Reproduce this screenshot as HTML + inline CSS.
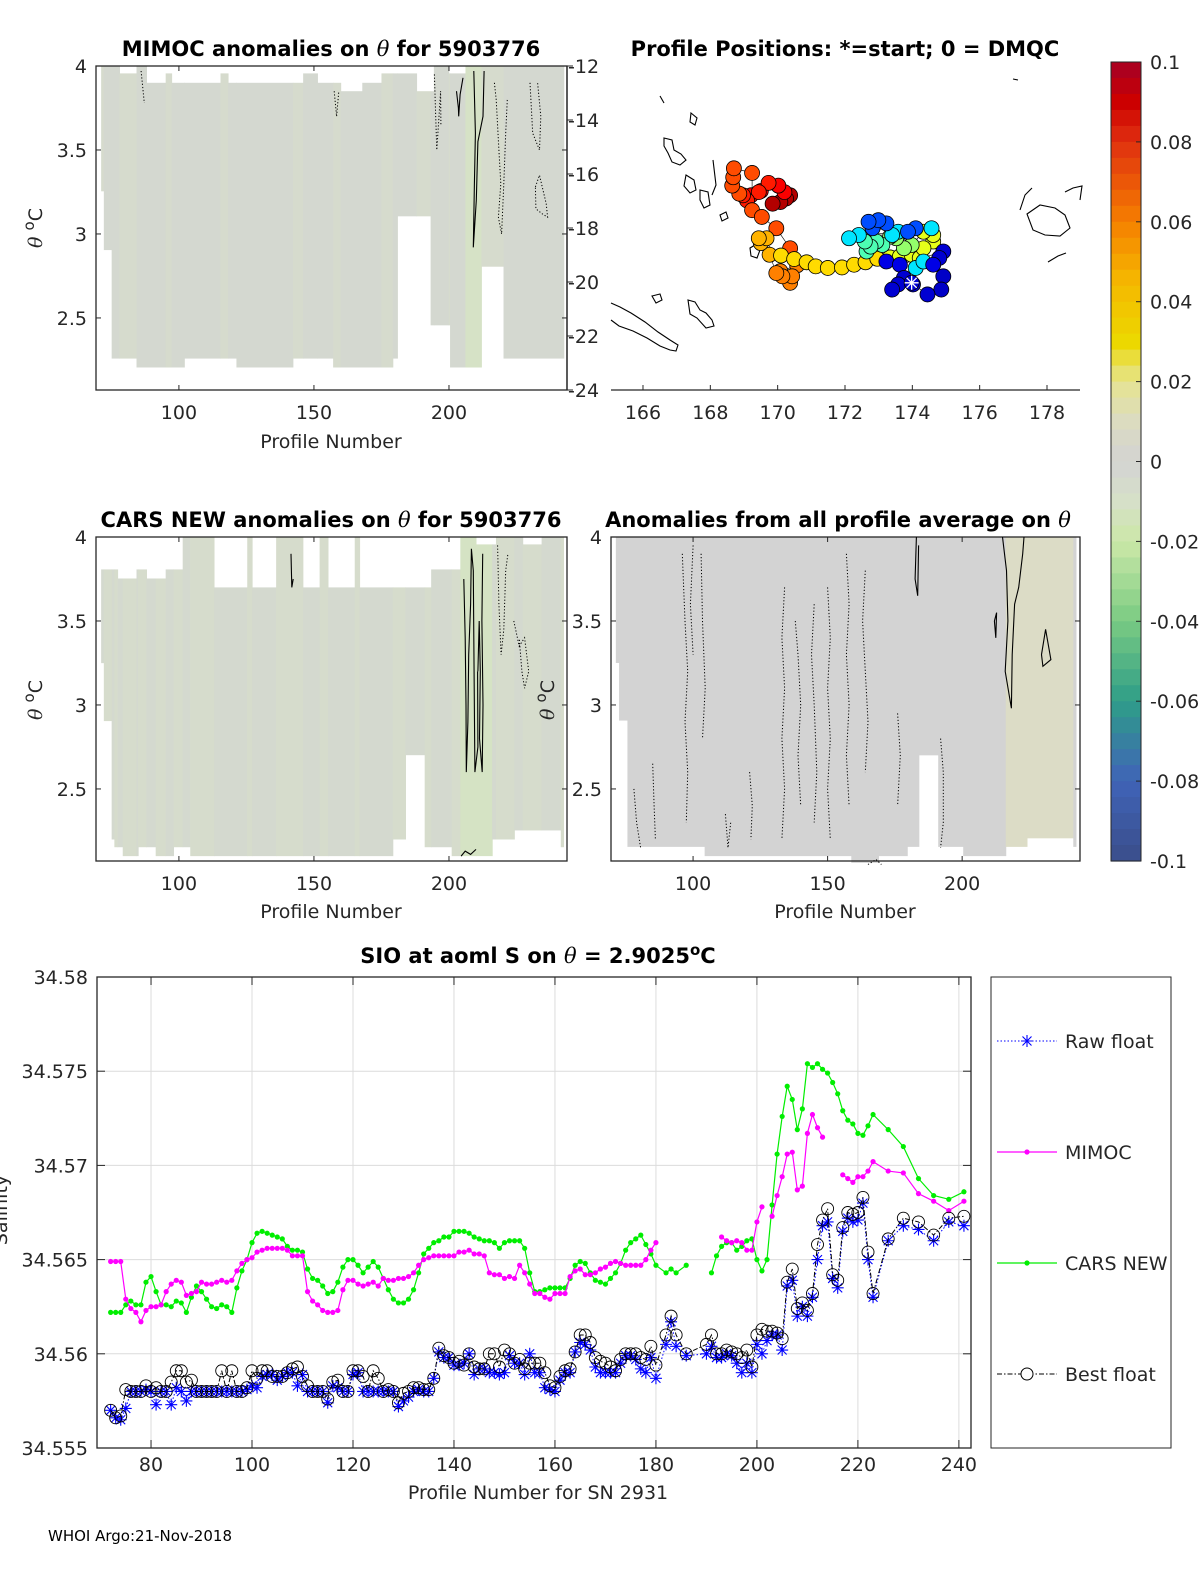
<!DOCTYPE html>
<html><head><meta charset="utf-8"><style>
html,body{margin:0;padding:0;background:#fff}
svg{display:block;font-family:"DejaVu Sans","Liberation Sans",sans-serif}
.tk{font-size:19px;fill:#262626}
.ttl{font-size:21px;font-weight:bold;fill:#000}
.th{font-family:"DejaVu Serif","Liberation Serif",serif;font-style:italic;font-weight:normal}
</style></head><body>
<svg id="fig" width="1200" height="1575" viewBox="0 0 1200 1575" xmlns="http://www.w3.org/2000/svg">
<g id="p1"></g>
<g id="p2"></g>
<g id="p3"></g>
<g id="p4"></g>
<g id="cb"></g>
<g id="p5"></g>

<text class="ttl" x="331" y="56" text-anchor="middle">MIMOC anomalies on <tspan class="th">θ</tspan>  for 5903776</text>
<text class="ttl" x="845" y="56" text-anchor="middle">Profile Positions: *=start; 0 = DMQC</text>
<text class="ttl" x="331" y="527" text-anchor="middle">CARS NEW anomalies on <tspan class="th">θ</tspan> for 5903776</text>
<text class="ttl" x="838" y="527" text-anchor="middle">Anomalies from all profile average on <tspan class="th">θ</tspan></text>
<text class="ttl" x="538" y="963" text-anchor="middle">SIO at aoml S on <tspan class="th">θ</tspan> = 2.9025<tspan dy="-8" font-size="15">o</tspan><tspan dy="8">C</tspan></text>

<text class="tk" x="331" y="448" text-anchor="middle" font-size="21">Profile Number</text>
<text class="tk" x="331" y="918" text-anchor="middle" font-size="21">Profile Number</text>
<text class="tk" x="845" y="918" text-anchor="middle" font-size="21">Profile Number</text>
<text class="tk" x="538" y="1499" text-anchor="middle" font-size="21">Profile Number for SN 2931</text>
<text class="tk" transform="translate(42,228) rotate(-90)" text-anchor="middle" font-size="21"><tspan class="th">θ</tspan> <tspan dy="-8" font-size="15">o</tspan><tspan dy="8">C</tspan></text>
<text class="tk" transform="translate(42,700) rotate(-90)" text-anchor="middle" font-size="21"><tspan class="th">θ</tspan> <tspan dy="-8" font-size="15">o</tspan><tspan dy="8">C</tspan></text>
<text class="tk" transform="translate(554,700) rotate(-90)" text-anchor="middle" font-size="21"><tspan class="th">θ</tspan> <tspan dy="-8" font-size="15">o</tspan><tspan dy="8">C</tspan></text>
<text class="tk" transform="translate(7,1210) rotate(-90)" text-anchor="middle" font-size="21">Salinity</text>
<text x="48" y="1541" font-size="15" fill="#000">WHOI Argo:21-Nov-2018</text>
</svg>
<script>
// ---------- bottom chart data ----------
const profiles=[72,73,74,75,76,77,78,79,80,81,82,83,84,85,86,87,88,89,90,91,92,93,94,95,96,97,98,99,100,101,102,103,104,105,106,107,108,109,110,111,112,113,114,115,116,117,118,119,120,121,122,123,124,125,126,127,128,129,130,131,132,133,134,135,136,137,138,139,140,141,142,143,144,145,146,147,148,149,150,151,152,153,154,155,156,157,158,159,160,161,162,163,164,165,166,167,168,169,170,171,172,173,174,175,176,177,178,179,180,182,183,184,186,190,191,192,193,194,195,196,197,198,199,200,201,202,203,204,205,206,207,208,209,210,211,212,213,214,215,216,217,218,219,220,221,222,223,226,229,232,235,238,241];
const carsNew=[34.5622,34.5622,34.5622,34.5626,34.5628,34.5626,34.5626,34.5638,34.5641,34.5633,34.5626,34.5626,34.5625,34.5628,34.5627,34.5622,34.5630,34.5636,34.5633,34.5629,34.5625,34.5624,34.5626,34.5625,34.5622,34.5635,34.5644,34.5650,34.5659,34.5664,34.5665,34.5664,34.5663,34.5662,34.5661,34.5657,34.5655,34.5655,34.5654,34.5645,34.5640,34.5639,34.5636,34.5632,34.5633,34.5638,34.5646,34.5650,34.5650,34.5647,34.5643,34.5646,34.5649,34.5646,34.5640,34.5634,34.5629,34.5627,34.5627,34.5629,34.5634,34.5643,34.5653,34.5656,34.5659,34.5660,34.5662,34.5662,34.5665,34.5665,34.5665,34.5664,34.5662,34.5661,34.5660,34.5660,34.5659,34.5656,34.5659,34.5660,34.5660,34.5660,34.5656,34.5643,34.5633,34.5633,34.5634,34.5635,34.5635,34.5635,34.5635,34.5640,34.5647,34.5649,34.5648,34.5643,34.5639,34.5638,34.5637,34.5640,34.5643,34.5648,34.5655,34.5659,34.5661,34.5663,34.5658,34.5653,34.5647,34.5643,34.5645,34.5643,34.5647,null,34.5643,34.5652,34.5657,34.5659,34.5659,34.5655,34.5657,34.5660,34.5661,34.5650,34.5644,34.5650,34.5679,34.5706,34.5726,34.5742,34.5735,34.5719,34.5730,34.5754,34.5752,34.5754,34.5751,34.5749,34.5744,34.5738,34.5729,34.5724,34.5722,34.5717,34.5716,34.5721,34.5727,34.5719,34.5710,34.5693,34.5684,34.5682,34.5686];
const mimoc=[34.5649,34.5649,34.5649,34.5629,34.5624,34.5622,34.5617,34.5623,34.5625,34.5625,34.5626,34.5633,34.5637,34.5639,34.5638,34.5631,34.5632,34.5633,34.5638,34.5637,34.5637,34.5638,34.5639,34.5638,34.5639,34.5644,34.5648,34.5650,34.5651,34.5654,34.5655,34.5656,34.5656,34.5656,34.5656,34.5655,34.5652,34.5652,34.5652,34.5633,34.5628,34.5626,34.5623,34.5622,34.5622,34.5623,34.5634,34.5639,34.5639,34.5637,34.5636,34.5637,34.5638,34.5636,34.5640,34.5639,34.5639,34.5640,34.5640,34.5641,34.5643,34.5647,34.5650,34.5651,34.5652,34.5652,34.5652,34.5652,34.5652,34.5654,34.5654,34.5655,34.5653,34.5653,34.5652,34.5643,34.5642,34.5642,34.5640,34.5641,34.5640,34.5647,34.5643,34.5637,34.5632,34.5632,34.5630,34.5629,34.5632,34.5632,34.5632,34.5641,34.5644,34.5645,34.5642,34.5642,34.5643,34.5645,34.5646,34.5648,34.5649,34.5648,34.5647,34.5647,34.5647,34.5647,34.5650,34.5655,34.5659,null,null,null,null,null,null,null,34.5662,34.5660,34.5659,34.5660,34.5659,34.5655,34.5655,34.5670,34.5678,null,34.5673,34.5684,34.5694,34.5706,34.5707,34.5687,34.5689,34.5717,34.5727,34.5720,34.5715,null,null,null,34.5695,34.5693,34.5691,34.5694,34.5694,34.5697,34.5702,34.5697,34.5696,34.5685,34.5681,34.5676,34.5681];
const bestFloat=[34.5570,34.5566,34.5567,34.5581,34.5580,34.5580,34.5580,34.5583,34.5580,34.5582,34.5580,34.5580,34.5585,34.5591,34.5591,34.5585,34.5586,34.5580,34.5580,34.5580,34.5580,34.5580,34.5591,34.5580,34.5591,34.5580,34.5580,34.5582,34.5591,34.5587,34.5591,34.5591,34.5588,34.5588,34.5588,34.5590,34.5592,34.5593,34.5588,34.5583,34.5580,34.5580,34.5580,34.5576,34.5585,34.5586,34.5580,34.5580,34.5591,34.5591,34.5588,34.5580,34.5591,34.5587,34.5580,34.5581,34.5580,34.5574,34.5579,34.5580,34.5582,34.5582,34.5581,34.5581,34.5587,34.5603,34.5599,34.5598,34.5595,34.5596,34.5594,34.5600,34.5593,34.5592,34.5592,34.5600,34.5600,34.5593,34.5602,34.5600,34.5595,34.5597,34.5592,34.5595,34.5595,34.5595,34.5590,34.5583,34.5582,34.5588,34.5591,34.5592,34.5601,34.5610,34.5610,34.5606,34.5598,34.5596,34.5595,34.5593,34.5591,34.5597,34.5600,34.5600,34.5600,34.5598,34.5597,34.5604,34.5594,34.5610,34.5620,34.5610,34.5600,34.5605,34.5610,34.5600,34.5600,34.5602,34.5601,34.5600,34.5598,34.5602,34.5593,34.5610,34.5613,34.5612,34.5612,34.5611,34.5608,34.5638,34.5645,34.5624,34.5627,34.5623,34.5632,34.5658,34.5671,34.5677,34.5642,34.5639,34.5667,34.5675,34.5674,34.5675,34.5683,34.5654,34.5632,34.5661,34.5672,34.5670,34.5663,34.5672,34.5673];
const rawFloat=[34.5570,34.5566,34.5565,34.5571,34.5580,34.5580,34.5580,34.5581,34.5580,34.5573,34.5580,34.5580,34.5573,34.5582,34.5580,34.5575,34.5580,34.5580,34.5580,34.5580,34.5580,34.5580,34.5580,34.5580,34.5580,34.5580,34.5580,34.5581,34.5583,34.5582,34.5588,34.5589,34.5589,34.5586,34.5588,34.5590,34.5590,34.5583,34.5589,34.5580,34.5580,34.5580,34.5580,34.5574,34.5583,34.5582,34.5580,34.5580,34.5589,34.5590,34.5580,34.5580,34.5580,34.5580,34.5580,34.5580,34.5580,34.5572,34.5575,34.5577,34.5580,34.5581,34.5580,34.5580,34.5587,34.5601,34.5598,34.5598,34.5594,34.5594,34.5595,34.5600,34.5589,34.5592,34.5592,34.5590,34.5590,34.5589,34.5590,34.5599,34.5595,34.5595,34.5589,34.5600,34.5590,34.5590,34.5582,34.5581,34.5580,34.5586,34.5590,34.5590,34.5601,34.5606,34.5605,34.5602,34.5593,34.5590,34.5590,34.5590,34.5590,34.5595,34.5599,34.5599,34.5597,34.5592,34.5590,34.5598,34.5587,34.5605,34.5617,34.5604,34.5599,34.5600,34.5604,34.5598,34.5598,34.5600,34.5599,34.5595,34.5590,34.5595,34.5590,34.5605,34.5600,34.5607,34.5610,34.5610,34.5602,34.5636,34.5639,34.5620,34.5625,34.5620,34.5630,34.5650,34.5668,34.5670,34.5640,34.5635,34.5665,34.5672,34.5670,34.5671,34.5680,34.5650,34.5630,34.5660,34.5668,34.5666,34.5660,34.5670,34.5668];
const xTicks5=[80,100,120,140,160,180,200,220,240];
const yTicks5=[34.555,34.56,34.565,34.57,34.575,34.58];
const yTickLabels5=["34.555","34.56","34.565","34.57","34.575","34.58"];

// ---------- map data ----------
const mapLon=[173.98,173.40,173.58,173.75,174.02,174.45,174.86,174.92,174.62,174.80,174.92,173.63,173.23,172.70,172.99,173.23,172.82,173.87,174.10,172.12,172.41,173.40,173.58,174.33,174.10,174.57,172.59,172.76,172.93,172.64,173.11,173.34,173.52,173.75,173.98,174.33,174.62,174.33,174.62,174.22,173.98,173.63,173.34,172.96,172.61,172.27,171.91,171.49,171.13,170.86,170.49,170.10,169.44,169.67,169.50,169.76,169.96,170.14,170.43,170.37,170.08,170.58,170.37,169.96,169.53,169.24,169.24,168.70,168.68,168.65,168.86,168.97,169.09,169.44,169.73,169.21,169.50,170.02,170.20,169.85,170.08,170.25,170.37];
const mapLat=[-20.03,-20.28,-20.09,-19.85,-20.09,-20.46,-20.28,-19.79,-19.36,-19.11,-18.87,-19.36,-19.24,-17.77,-17.71,-17.83,-18.01,-18.14,-18.01,-18.38,-18.26,-18.26,-18.14,-19.24,-19.48,-18.01,-18.50,-18.69,-18.50,-18.87,-18.63,-18.32,-18.38,-18.75,-18.63,-18.14,-18.26,-18.75,-18.50,-19.11,-18.99,-19.05,-19.09,-19.14,-19.27,-19.36,-19.46,-19.48,-19.42,-19.27,-19.15,-19.02,-18.38,-18.38,-18.56,-18.99,-19.67,-19.79,-19.79,-20.03,-19.60,-19.38,-18.75,-18.01,-17.59,-17.34,-15.96,-15.79,-16.12,-16.43,-16.73,-16.79,-16.98,-16.67,-16.33,-16.79,-16.63,-16.43,-16.67,-17.10,-17.04,-16.91,-16.79];
const mapColorIdx=[0.08,0.08,0.08,0.08,0.08,0.08,0.07,0.07,0.1,0.08,0.08,0.1,0.1,0.2,0.2,0.2,0.2,0.2,0.2,0.35,0.35,0.35,0.35,0.35,0.35,0.35,0.45,0.45,0.45,0.45,0.45,0.52,0.52,0.52,0.52,0.6,0.6,0.6,0.6,0.6,0.6,0.6,0.6,0.66,0.66,0.66,0.66,0.66,0.66,0.66,0.66,0.66,0.7,0.7,0.7,0.7,0.75,0.75,0.75,0.75,0.75,0.75,0.8,0.8,0.8,0.8,0.8,0.8,0.8,0.8,0.8,0.85,0.85,0.85,0.85,0.88,0.88,0.88,0.88,0.95,0.95,0.95,0.95];
const lonTicks=[166,168,170,172,174,176,178];
const latTicks=[-12,-14,-16,-18,-20,-22,-24];

// ---------- section panel data ----------
const p1Cols=[[71.2,72.2,4.0,3.254],[72.2,75.1,4.0,2.904],[75.1,78.0,4.0,2.258],[78.0,84.3,3.956,2.258],[84.3,88.0,4.0,2.205],[88.0,95.1,3.90,2.205],[95.1,97.3,3.956,2.205],[97.3,102.0,3.90,2.205],[102.0,115.4,3.90,2.258],[115.4,118.2,3.956,2.258],[118.2,121.3,3.90,2.258],[121.3,142.2,3.90,2.205],[142.2,146.0,3.90,2.258],[146.0,151.3,3.956,2.258],[151.3,157.1,3.90,2.258],[157.1,159.9,3.90,2.205],[159.9,167.9,3.85,2.205],[167.9,175.0,3.90,2.205],[175.0,179.2,3.956,2.205],[179.2,180.9,3.956,2.258],[180.9,188.0,3.956,3.105],[188.0,193.2,3.85,3.105],[193.2,194.4,3.85,2.456],[194.4,199.9,4.0,2.456],[199.9,200.4,3.956,2.456],[200.4,206.1,3.956,2.205],[206.1,212.0,4.0,2.205],[212.0,220.2,4.0,2.805],[220.2,242.5,4.0,2.258]];
const p3Cols=[[71.2,72.2,3.807,3.249],[72.2,75.1,3.807,2.904],[75.1,76.1,3.807,2.199],[76.1,77.3,3.807,2.153],[77.3,79.2,3.753,2.153],[79.2,84.3,3.753,2.10],[84.3,84.9,3.807,2.10],[84.9,88.0,3.807,2.153],[88.0,91.4,3.753,2.153],[91.4,95.1,3.753,2.10],[95.1,98.0,3.807,2.10],[98.0,101.4,3.807,2.153],[101.4,104.2,4.0,2.153],[104.2,113.0,4.0,2.10],[113.0,125.3,3.70,2.10],[125.3,127.1,4.0,2.10],[127.1,136.0,3.70,2.10],[136.0,145.9,4.0,2.10],[145.9,152.1,3.70,2.10],[152.1,155.2,4.0,2.10],[155.2,165.1,3.70,2.10],[165.1,166.9,4.0,2.10],[166.9,179.2,3.70,2.10],[179.2,183.9,3.70,2.199],[183.9,191.0,3.70,2.701],[191.0,193.4,3.70,2.153],[193.4,201.0,3.807,2.153],[201.0,204.2,3.807,2.10],[204.2,210.0,4.0,2.10],[210.0,216.0,3.956,2.10],[216.0,217.4,3.956,2.199],[217.4,224.2,4.0,2.199],[224.2,227.3,4.0,2.253],[227.3,234.3,3.956,2.253],[234.3,241.4,4.0,2.253],[241.4,242.4,4.0,2.153]];
const p4Cols=[[71.3,72.5,4,3.25],[72.5,75.6,4,2.907],[75.6,104.3,4,2.155],[104.3,158.8,4,2.10],[158.8,168.9,4,2.06],[168.9,179.6,4,2.10],[179.6,183.9,4,2.155],[183.9,191.1,4,2.70],[191.1,200.4,4,2.155],[200.4,216.2,4,2.10],[216.2,224.1,4,2.155],[224.1,241.3,4,2.206],[241.3,242.3,4,2.155]];
const secXTicks=[100,150,200];
const thetaTicks=[2.5,3,3.5,4];
const cbTicks=[0.1,0.08,0.06,0.04,0.02,0,-0.02,-0.04,-0.06,-0.08,-0.1];
const cbTickLabels=["0.1","0.08","0.06","0.04","0.02","0","-0.02","-0.04","-0.06","-0.08","-0.1"];

const NS="http://www.w3.org/2000/svg";
function mk(parent,tag,attrs){const e=document.createElementNS(NS,tag);for(const k in attrs)e.setAttribute(k,attrs[k]);parent.appendChild(e);return e;}

const cmStops=[[-0.1,[58,78,138]],[-0.08,[64,99,184]],[-0.06,[46,158,136]],[-0.04,[122,203,130]],[-0.02,[204,232,168]],[-0.01,[214,224,200]],[0,[211,211,211]],[0.01,[220,220,192]],[0.02,[230,228,144]],[0.03,[236,216,0]],[0.045,[245,184,0]],[0.06,[245,127,0]],[0.08,[224,48,16]],[0.09,[204,0,0]],[0.1,[165,0,38]]];
function cmap(v){for(let i=0;i<cmStops.length-1;i++){const a=cmStops[i],b=cmStops[i+1];if(v<=b[0]){const t=(v-a[0])/(b[0]-a[0]);return "rgb("+a[1].map((c,j)=>Math.round(c+(b[1][j]-c)*t)).join(",")+")";}}return "rgb(165,0,38)";}
function jet(t){const c=x=>Math.round(255*Math.max(0,Math.min(1,x)));return "rgb("+c(1.5-Math.abs(4*t-3))+","+c(1.5-Math.abs(4*t-2))+","+c(1.5-Math.abs(4*t-1))+")";}

function section(g,L,T,W,H,p0,p1,t0,t1,cols,fills,name){
  const X=p=>L+(p-p0)/(p1-p0)*W, Y=t=>T+(t1-t)/(t1-t0)*H;
  cols.forEach((c,i)=>{
    const r=mk(g,'rect',{x:X(c[0]),y:Y(c[2]),width:X(c[1])-X(c[0])+0.5,height:Y(c[3])-Y(c[2]),fill:fills(i,c)});
    
    
  });
  const ax=mk(g,'rect',{x:L,y:T,width:W,height:H,fill:'none',stroke:'#262626','stroke-width':1.3});
  
  
  secXTicks.forEach(v=>{
    mk(g,'line',{x1:X(v),x2:X(v),y1:T+H,y2:T+H-5,stroke:'#262626'});mk(g,'line',{x1:X(v),x2:X(v),y1:T,y2:T+5,stroke:'#262626'});
    const t=mk(g,'text',{x:X(v),y:T+H+29,'text-anchor':'middle',class:'tk'});t.textContent=v;
    
    
  });
  thetaTicks.forEach(v=>{
    mk(g,'line',{x1:L,x2:L+5,y1:Y(v),y2:Y(v),stroke:'#262626'});mk(g,'line',{x1:L+W,x2:L+W-5,y1:Y(v),y2:Y(v),stroke:'#262626'});
    const t=mk(g,'text',{x:L-9,y:Y(v)+7,'text-anchor':'end',class:'tk'});t.textContent=v;
    
    
  });
  return {X,Y};
}
function contour(g,s,pts,dotted,name){
  const d=pts.map((p,i)=>(i?'L':'M')+s.X(p[0]).toFixed(1)+','+s.Y(p[1]).toFixed(1)).join('');
  const e=mk(g,'path',{d,fill:'none',stroke:'#000','stroke-width':dotted?1:1.1,'stroke-dasharray':dotted?'1.2,2':'none'});
  
  
}
const g1=document.getElementById('p1');
const s1=section(g1,96,66,471,324,69.3,243.7,2.071,4,p1Cols,(i,c)=>c[0]>=206&&c[0]<212?'#d6e2c6':(i%3==0?'#d6dbcd':'#d4d8d0'),'p1');
contour(g1,s1,[[209.2,3.97],[209.8,3.6],[209.4,3.3],[209.0,2.92],[210.1,3.2],[210.7,3.55],[212.6,3.7],[213,3.97]],false,'p1-contour');
contour(g1,s1,[[202.8,3.85],[203.5,3.75],[203.6,3.7],[204.1,3.83],[205.2,3.93]],false,'p1-contour');
contour(g1,s1,[[194.6,3.95],[195.1,3.7],[195.5,3.5],[196.3,3.7],[196.9,3.85],[197,3.65]],true,'p1-contour');
contour(g1,s1,[[216.8,3.9],[217.5,3.8],[218.5,3.5],[219.2,3.3],[218.3,3.1],[219.5,3.0],[220.3,3.3],[221,3.6],[221.6,3.8]],true,'p1-contour');
contour(g1,s1,[[230,3.9],[231,3.6],[233.5,3.5],[234,3.7],[232.8,3.9]],true,'p1-contour');
contour(g1,s1,[[232,3.28],[233.5,3.35],[236,3.18],[236.5,3.1],[234.5,3.12],[232.2,3.15],[232,3.28]],true,'p1-contour');
contour(g1,s1,[[86,3.97],[87.2,3.78]],true,'p1-contour');
contour(g1,s1,[[157.5,3.85],[158.4,3.7],[159.2,3.85]],true,'p1-contour');

const g3=document.getElementById('p3');
const s3=section(g3,96,537,471,324,69.3,243.7,2.071,4,p3Cols,(i,c)=>c[0]>=204&&c[0]<216?'#d5e3c4':(i%2?'#d6dccc':'#d4d9cf'),'p3');
contour(g3,s3,[[205.5,3.75],[206,3.4],[206.3,3.0],[206.4,2.6],[207,2.9],[207.3,3.3],[208,3.6],[208.3,3.93],[209,3.8],[209.2,3.4],[209.6,2.6],[210.7,2.75],[210.6,3.2]],false,'p3-contour');
contour(g3,s3,[[212.5,3.9],[212.2,3.5],[212.6,3.0],[212.3,2.6],[211.3,2.8],[211.6,3.2],[211.2,3.5],[210.7,3.2]],false,'p3-contour');
contour(g3,s3,[[218,3.95],[218.5,3.6],[219.3,3.3],[220.3,3.45],[221,3.8],[221.8,3.9]],true,'p3-contour');
contour(g3,s3,[[224,3.5],[226,3.35],[228,3.4],[229.5,3.2],[228,3.1],[227,3.2],[226,3.4]],true,'p3-contour');
contour(g3,s3,[[141.5,3.9],[141.8,3.7],[142.3,3.75]],false,'p3-contour');
contour(g3,s3,[[204.5,2.1],[206,2.13],[208,2.11],[210,2.14]],false,'p3-contour');

const g4=document.getElementById('p4');
const s4=section(g4,611,537,469,324,69.5,243.8,2.071,4,p4Cols,(i,c)=>c[0]>=216&&c[0]<225?'#dcdcc6':'#d3d3d3','p4');
[[[78,2.5],[79,2.3],[80.5,2.15]],[[85,2.65],[85.5,2.4],[86,2.2]],[[96,3.9],[97,3.5],[98,3.2],[97,2.9],[98,2.6],[97.5,2.3]],[[103,3.9],[103.5,3.5],[104.5,3.1],[103.5,2.8]],[[112,2.35],[113,2.15],[114,2.3]],[[121,2.6],[122,2.4],[121.5,2.2]],[[134,3.7],[133,3.4],[134,3.1],[133,2.8],[134,2.5],[133,2.2]],[[138,3.5],[139,3.3],[140,3.0],[139,2.7],[140,2.4]],[[145,3.6],[144,3.3],[145,3.0],[146,2.6],[145,2.3]],[[150,3.7],[151,3.4],[150,3.1],[151,2.8],[150,2.5],[151,2.2]],[[157,3.9],[158,3.6],[157,3.3],[158,3.0],[157,2.7],[158,2.4]],[[164,3.8],[163,3.5],[164,3.2],[165,2.9],[164,2.6]],[[176,2.95],[177,2.7],[176,2.4]],[[192,2.8],[193,2.6],[193,2.3],[192,2.15]],[[165,2.05],[168,2.08],[170,2.05]],[[100,3.95],[99,3.6],[100,3.3]]].forEach(c=>contour(g4,s4,c,true,'p4-contour'));
contour(g4,s4,[[183,4.0],[182.5,3.75],[183.5,3.65],[183.8,3.95]],false,'p4-contour');
contour(g4,s4,[[215,4.0],[216.5,3.8],[217,3.5],[216,3.2],[218.3,2.98],[218.6,3.3],[219.5,3.6],[221,3.7],[222.5,3.9],[223,4.0]],false,'p4-contour');
contour(g4,s4,[[229.5,3.3],[231,3.45],[233,3.27],[230,3.23],[229.5,3.3]],false,'p4-contour');
contour(g4,s4,[[212,3.5],[212.5,3.4],[212.8,3.55],[212,3.5]],false,'p4-contour');

const g2=document.getElementById('p2');
const mL=611,mT=66,mW=469,mH=324,lon0=165.05,lon1=178.98,lat0=-24,lat1=-12;
const MX=v=>mL+(v-lon0)/(lon1-lon0)*mW, MY=v=>mT+(lat1-v)/(lat1-lat0)*mH;
[
 "M611,303 L620,307 L631,313 L645,322 L658,332 L670,340 L678,345 L676,351 L670,350 L660,346 L647,338 L633,331 L619,326 L611,320",
 "M664,138 L672,140 L674,150 L681,154 L686,160 L680,165 L672,162 L668,153 L664,146 Z",
 "M686,175 L694,180 L696,190 L690,193 L684,186 Z",
 "M700,190 L708,192 L710,205 L704,208 L700,200 Z",
 "M750,248 L755,245 L760,250 L757,258 L751,256 Z",
 "M720,215 L726,212 L728,218 L722,221 Z",
 "M688,300 L695,302 L700,310 L706,313 L712,320 L714,326 L706,328 L697,318 L690,314 Z",
 "M652,296 L660,294 L662,300 L656,303 Z",
 "M1027,214 L1040,205 L1055,208 L1065,215 L1070,228 L1060,236 L1045,235 L1033,230 Z",
 "M1020,210 L1025,195 L1032,188",
 "M1048,262 L1058,256 L1066,253",
 "M1065,192 L1073,188 L1082,186 L1080,200",
 "M660,96 L664,103","M691,113 L697,118 L695,125 L690,122 Z","M713,160 L716,185 L712,195",
 "M1013,79 L1018,80"
].forEach(d=>{const e=mk(g2,'path',{d,fill:'none',stroke:'#000','stroke-width':1.1});
 
 });
const track=mk(g2,'path',{d:mapLon.map((v,i)=>(i?'L':'M')+MX(v).toFixed(1)+','+MY(mapLat[i]).toFixed(1)).join(''),fill:'none',stroke:'#000','stroke-width':0.6});


for(let i=mapLon.length-1;i>=0;i--){
  const c=mk(g2,'circle',{cx:MX(mapLon[i]),cy:MY(mapLat[i]),r:7.5,fill:jet(mapColorIdx[i]),stroke:'#000','stroke-width':0.8});
  
  
}
{const sx=MX(mapLon[0]),sy=MY(mapLat[0]);const st=mk(g2,'path',{d:`M${sx-7},${sy}h14M${sx},${sy-7}v14M${sx-5},${sy-5}l10,10M${sx-5},${sy+5}l10,-10`,stroke:'#fff','stroke-width':1.3});

}
mk(g2,'line',{x1:mL,x2:mL+mW,y1:mT+mH,y2:mT+mH,stroke:'#262626','stroke-width':1.3});
mk(g2,'line',{x1:567,x2:567,y1:mT,y2:mT+mH,stroke:'#262626','stroke-width':1.3});
lonTicks.forEach(v=>{mk(g2,'line',{x1:MX(v),x2:MX(v),y1:mT+mH,y2:mT+mH-5,stroke:'#262626'});
 const t=mk(g2,'text',{x:MX(v),y:mT+mH+29,'text-anchor':'middle',class:'tk'});t.textContent=v;
 
 });
latTicks.forEach(v=>{mk(g2,'line',{x1:567,x2:573,y1:MY(v),y2:MY(v),stroke:'#262626'});
 const t=mk(g2,'text',{x:568,y:MY(v)+7,class:'tk'});t.textContent=v;
 
 });

const gc=document.getElementById('cb');
const cT=62,cB=861,cL=1111,cW=30,NB=50;
const CY=v=>cT+(0.1-v)/0.2*(cB-cT);
for(let i=0;i<NB;i++){const v1=0.1-i*0.2/NB,v2=v1-0.2/NB;
 const r=mk(gc,'rect',{x:cL,y:CY(v1),width:cW,height:CY(v2)-CY(v1)+0.6,fill:cmap((v1+v2)/2)});
 
 }
mk(gc,'rect',{x:cL,y:cT,width:cW,height:cB-cT,fill:'none',stroke:'#262626','stroke-width':1});
cbTicks.forEach((v,i)=>{mk(gc,'line',{x1:cL+cW-5,x2:cL+cW,y1:CY(v),y2:CY(v),stroke:'#262626'});
 const t=mk(gc,'text',{x:cL+cW+9,y:CY(v)+7,class:'tk'});t.textContent=cbTickLabels[i];
 
 });

const g5=document.getElementById('p5');
const L5=97,R5=971,T5=977,B5=1448,pMin=69.3,pMax=242.4,sMin=34.555,sMax=34.58;
const X5=p=>L5+(p-pMin)/(pMax-pMin)*(R5-L5), Y5=s=>B5-(s-sMin)/(sMax-sMin)*(B5-T5);
xTicks5.forEach(v=>{const l=mk(g5,'line',{x1:X5(v),x2:X5(v),y1:T5,y2:B5,stroke:'#dcdcdc','stroke-width':1});
 
 });
yTicks5.forEach(v=>{const l=mk(g5,'line',{x1:L5,x2:R5,y1:Y5(v),y2:Y5(v),stroke:'#dcdcdc','stroke-width':1});
 
 });
function seriesPath(vals,attrs,name){
  let d='',pen=false;vals.forEach((v,i)=>{if(v==null){pen=false;return;}d+=(pen?'L':'M')+X5(profiles[i]).toFixed(1)+','+Y5(v).toFixed(1);pen=true;});
  const a=Object.assign({d,fill:'none'},attrs);const e=mk(g5,'path',a);
  
  
}
function dots(vals,color,name){vals.forEach((v,i)=>{if(v==null)return;
  const c=mk(g5,'circle',{cx:X5(profiles[i]),cy:Y5(v),r:2.6,fill:color});
  
  });}
seriesPath(carsNew,{stroke:'#00ee00','stroke-width':1.2},'cars-new-line');dots(carsNew,'#00ee00','cars-new-point');
seriesPath(mimoc,{stroke:'#ff00ff','stroke-width':1.2},'mimoc-line');dots(mimoc,'#ff00ff','mimoc-point');
seriesPath(rawFloat,{stroke:'#0000ff','stroke-width':1,'stroke-dasharray':'1.5,2'},'raw-float-line');
rawFloat.forEach((v,i)=>{const x=X5(profiles[i]),y=Y5(v);
 const e=mk(g5,'path',{d:`M${x-6},${y}h12M${x},${y-6}v12M${x-4.5},${y-4.5}l9,9M${x-4.5},${y+4.5}l9,-9`,stroke:'#0000ff','stroke-width':1.1});
 
 });
seriesPath(bestFloat,{stroke:'#000','stroke-width':1,'stroke-dasharray':'5,2,1.5,2'},'best-float-line');
bestFloat.forEach((v,i)=>{const c=mk(g5,'circle',{cx:X5(profiles[i]),cy:Y5(v),r:6,fill:'none',stroke:'#000','stroke-width':0.9});
 
 });
mk(g5,'rect',{x:L5,y:T5,width:R5-L5,height:B5-T5,fill:'none',stroke:'#262626','stroke-width':1.3});
xTicks5.forEach(v=>{mk(g5,'line',{x1:X5(v),x2:X5(v),y1:B5,y2:B5-8,stroke:'#262626'});mk(g5,'line',{x1:X5(v),x2:X5(v),y1:T5,y2:T5+8,stroke:'#262626'});
 const t=mk(g5,'text',{x:X5(v),y:B5+23,'text-anchor':'middle',class:'tk'});t.textContent=v;
 
 });
yTicks5.forEach((v,i)=>{mk(g5,'line',{x1:L5,x2:L5+8,y1:Y5(v),y2:Y5(v),stroke:'#262626'});mk(g5,'line',{x1:R5,x2:R5-8,y1:Y5(v),y2:Y5(v),stroke:'#262626'});
 const t=mk(g5,'text',{x:L5-9,y:Y5(v)+7,'text-anchor':'end',class:'tk'});t.textContent=yTickLabels5[i];
 
 });
const lg=mk(g5,'g',{});


mk(lg,'rect',{x:991,y:T5,width:180,height:B5-T5,fill:'#fff',stroke:'#262626','stroke-width':1});
[["Raw float",1041],["MIMOC",1152],["CARS NEW",1263],["Best float",1374]].forEach((e,i)=>{
 const row=mk(lg,'g',{});
 
 
 const y=e[1];
 if(i==0){mk(row,'line',{x1:997,x2:1057,y1:y,y2:y,stroke:'#00f','stroke-dasharray':'1.5,2'});mk(row,'path',{d:`M1021,${y}h12M1027,${y-6}v12M1022.5,${y-4.5}l9,9M1022.5,${y+4.5}l9,-9`,stroke:'#00f','stroke-width':1.1});}
 if(i==1){mk(row,'line',{x1:997,x2:1057,y1:y,y2:y,stroke:'#f0f','stroke-width':1.2});mk(row,'circle',{cx:1027,cy:y,r:2.6,fill:'#f0f'});}
 if(i==2){mk(row,'line',{x1:997,x2:1057,y1:y,y2:y,stroke:'#0e0','stroke-width':1.2});mk(row,'circle',{cx:1027,cy:y,r:2.6,fill:'#0e0'});}
 if(i==3){mk(row,'line',{x1:997,x2:1057,y1:y,y2:y,stroke:'#000','stroke-dasharray':'5,2,1.5,2'});mk(row,'circle',{cx:1027,cy:y,r:6,fill:'#fff',stroke:'#000'});}
 const t=mk(row,'text',{x:1065,y:y+7,class:'tk'});t.textContent=e[0];
});
</script>
</body></html>
